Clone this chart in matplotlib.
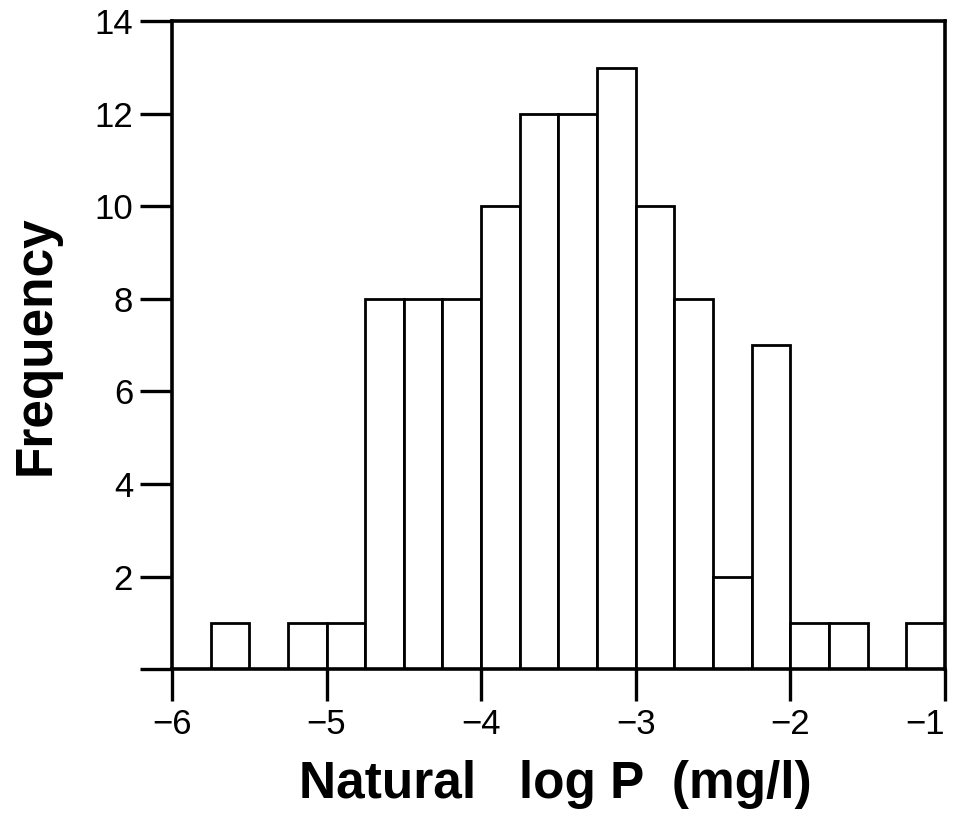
"""Histogram of natural log P (mg/l) frequencies."""

import matplotlib
matplotlib.use("Agg")
import matplotlib.pyplot as plt
import numpy as np

# left bin edges and counts (bin width 0.25)
BIN_LEFT = [-5.75, -5.5, -5.25, -5.0, -4.75, -4.5, -4.25, -4.0, -3.75, -3.5,
            -3.25, -3.0, -2.75, -2.5, -2.25, -2.0, -1.75, -1.5, -1.25]
COUNTS = [1, 0, 1, 1, 8, 8, 8, 10, 12, 12, 13, 10, 8, 2, 7, 1, 1, 0, 1]
BIN_WIDTH = 0.25

X_TICKS = [-6, -5, -4, -3, -2, -1]
X_LABELS = ["\u22126", "\u22125", "\u22124", "\u22123", "\u22122", "\u22121"]
Y_TICKS = [0, 2, 4, 6, 8, 10, 12, 14]
Y_LABELS = ["", "2", "4", "6", "8", "10", "12", "14"]

plt.rcParams["font.family"] = ["Liberation Sans", "DejaVu Sans"]


def main():
    fig = plt.figure(figsize=(9.55, 8.19), dpi=100)
    ax = fig.add_axes([0.180, 0.183, 0.8095, 0.791])

    left = np.array(BIN_LEFT)
    counts = np.array(COUNTS)
    keep = counts > 0
    ax.bar(left[keep], counts[keep], width=BIN_WIDTH, align="edge",
           facecolor="white", edgecolor="black", linewidth=2.0, zorder=2)

    ax.set_xlim(-6, -1)
    ax.set_ylim(0, 14)
    ax.set_xticks(X_TICKS)
    ax.set_xticklabels(X_LABELS)
    ax.set_yticks(Y_TICKS)
    ax.set_yticklabels(Y_LABELS)
    ax.tick_params(axis="both", direction="out", length=23, width=2.4,
                   labelsize=25, pad=5)
    # last label sits inside the figure edge, as in the original
    ax.get_xticklabels()[-1].set_horizontalalignment("right")

    for sp in ax.spines.values():
        sp.set_linewidth(2.6)
        sp.set_zorder(3)

    ax.set_ylabel("Frequency", fontsize=37, fontweight="bold", labelpad=24)
    fig.text(0.582, 0.012, "Natural   log P  (mg/l)", fontsize=37,
             fontweight="bold", ha="center", va="bottom")

    fig.savefig("out.png", dpi=100)


if __name__ == "__main__":
    main()
